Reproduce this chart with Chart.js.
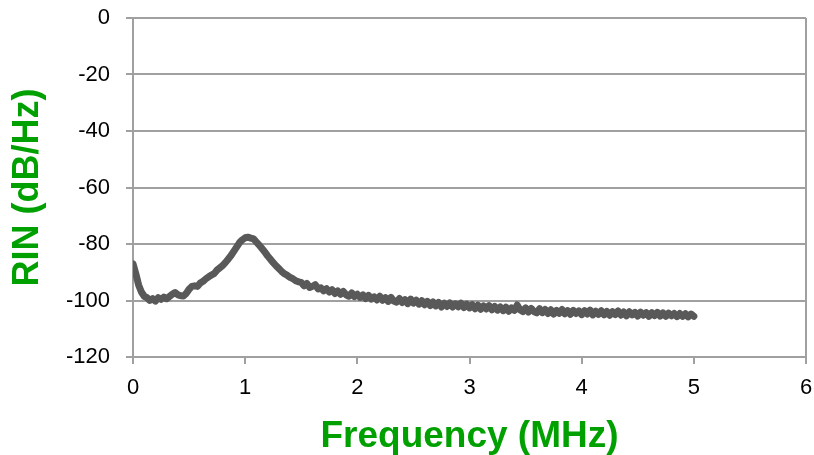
<!DOCTYPE html>
<html>
<head>
<meta charset="utf-8">
<script src="https://cdn.jsdelivr.net/npm/chart.js@4/dist/chart.umd.min.js"></script>
<style>
  html, body { margin: 0; padding: 0; background: #fff; }
  #wrap { width: 814px; height: 455px; }
</style>
</head>
<body>
<div id="wrap"><canvas id="rinChart" width="814" height="455"></canvas></div>
<script>
// Sample spacing of the measured spectrum (MHz)
const freqStep = 0.025;

// RIN readings (dB/Hz), one every 0.025 MHz from 0 to 5 MHz
const rinValues = [
  -87.0, -90.5, -94.5, -97.0, -98.5, -99.0, -100.0, -99.3, -100.2, -99.0,
  -99.6, -98.8, -99.4, -98.6, -97.8, -97.2, -98.0, -98.3, -98.4, -97.5,
  -96.0, -95.0, -94.8, -95.0, -93.8, -93.2, -92.3, -91.6, -91.0, -90.4,
  -89.2, -88.4, -87.6, -86.5, -85.3, -84.0, -82.5, -81.0, -79.5, -78.5,
  -77.8, -77.6, -77.9, -78.2, -79.3, -80.4, -81.6, -82.8, -84.2, -85.4,
  -86.6, -87.7, -88.7, -89.7, -90.5, -91.1, -91.8, -92.3, -93.0, -93.4,
  -93.6, -94.8, -94.0, -95.4, -95.0, -94.4, -95.9, -95.5, -96.6, -95.8,
  -97.0, -96.2, -97.5, -96.6, -97.8, -96.8, -98.0, -98.5, -97.3, -98.6,
  -97.8, -98.9, -98.0, -99.3, -98.2, -99.5, -98.7, -99.8, -98.5, -99.9,
  -99.0, -100.3, -98.9, -100.2, -100.6, -99.3, -100.7, -99.7, -101.1, -99.5,
  -100.9, -99.9, -101.3, -100.1, -101.5, -100.3, -101.8, -100.5, -101.9, -100.7,
  -102.3, -101.0, -102.1, -100.9, -102.3, -101.2, -102.2, -101.0, -102.5, -101.3,
  -102.6, -101.5, -102.9, -101.7, -103.1, -101.9, -103.0, -101.8, -103.3, -102.1,
  -103.4, -102.3, -103.6, -102.4, -103.8, -102.6, -103.5, -101.6, -103.3, -103.9,
  -102.6, -104.1, -102.8, -103.9, -104.4, -102.9, -104.3, -103.2, -104.6, -103.3,
  -104.8, -103.5, -104.5, -103.2, -104.7, -103.6, -104.9, -103.5, -104.6, -103.7,
  -105.0, -103.6, -104.8, -103.4, -105.1, -103.8, -104.9, -103.6, -105.1, -103.9,
  -105.2, -104.0, -105.0, -103.7, -105.2, -104.1, -105.4, -104.0, -105.1, -104.2,
  -105.5, -104.1, -105.2, -104.3, -105.6, -104.3, -105.3, -104.2, -105.5, -104.4,
  -105.6, -104.5, -105.4, -104.6, -105.7, -104.6, -105.6, -104.7, -105.8, -104.8,
  -105.6
];

// Axis ranges / ticks
const xTicks = [0, 1, 2, 3, 4, 5, 6];
const yTicks = [0, -20, -40, -60, -80, -100, -120];

const xTitle = "Frequency (MHz)";
const yTitle = "RIN (dB/Hz)";

const gridGray = "#a0a0a0";
const titleGreen = "#00a000";

const points = rinValues.map((v, i) => ({ x: +(i * freqStep).toFixed(3), y: v }));

new Chart(document.getElementById("rinChart"), {
  type: "line",
  data: {
    datasets: [{
      data: points,
      borderColor: "#595959",
      borderWidth: 7,
      pointRadius: 0,
      tension: 0,
      fill: false,
      borderJoinStyle: "round",
      borderCapStyle: "round"
    }]
  },
  options: {
    responsive: false,
    animation: false,
    layout: { padding: { top: 18, right: 8, bottom: 0, left: 0 } },
    plugins: { legend: { display: false }, tooltip: { enabled: false } },
    scales: {
      x: {
        type: "linear",
        min: xTicks[0],
        max: xTicks[xTicks.length - 1],
        afterBuildTicks: axis => { axis.ticks = xTicks.map(v => ({ value: v })); },
        afterFit: axis => {
          axis.height = 98;
          axis.paddingLeft = 0;
          axis.paddingRight = 0;
        },
        ticks: {
          color: "#000",
          font: { family: "Liberation Sans, Arial", size: 22 },
          padding: 11
        },
        grid: {
          color: ctx => (ctx.tick && ctx.tick.value === 6) ? gridGray : "transparent",
          tickColor: gridGray,
          tickLength: 7,
          lineWidth: 2
        },
        border: { color: gridGray, width: 2 },
        title: {
          display: true,
          text: xTitle,
          color: titleGreen,
          font: { family: "Liberation Sans, Arial", size: 37, weight: "bold" },
          padding: { top: 0, bottom: -4 }
        }
      },
      y: {
        type: "linear",
        min: -120,
        max: 0,
        afterBuildTicks: axis => { axis.ticks = yTicks.slice().reverse().map(v => ({ value: v })); },
        afterFit: axis => {
          axis.width = 133;
          axis.paddingTop = 0;
          axis.paddingBottom = 0;
        },
        ticks: {
          color: "#000",
          font: { family: "Liberation Sans, Arial", size: 22 },
          padding: 16
        },
        grid: {
          color: gridGray,
          tickColor: gridGray,
          tickLength: 7,
          lineWidth: 2
        },
        border: { color: gridGray, width: 2 },
        title: {
          display: true,
          text: yTitle,
          color: titleGreen,
          font: { family: "Liberation Sans, Arial", size: 36, weight: "bold" },
          padding: { top: 6, bottom: 0 }
        }
      }
    }
  }
});
</script>
</body>
</html>
